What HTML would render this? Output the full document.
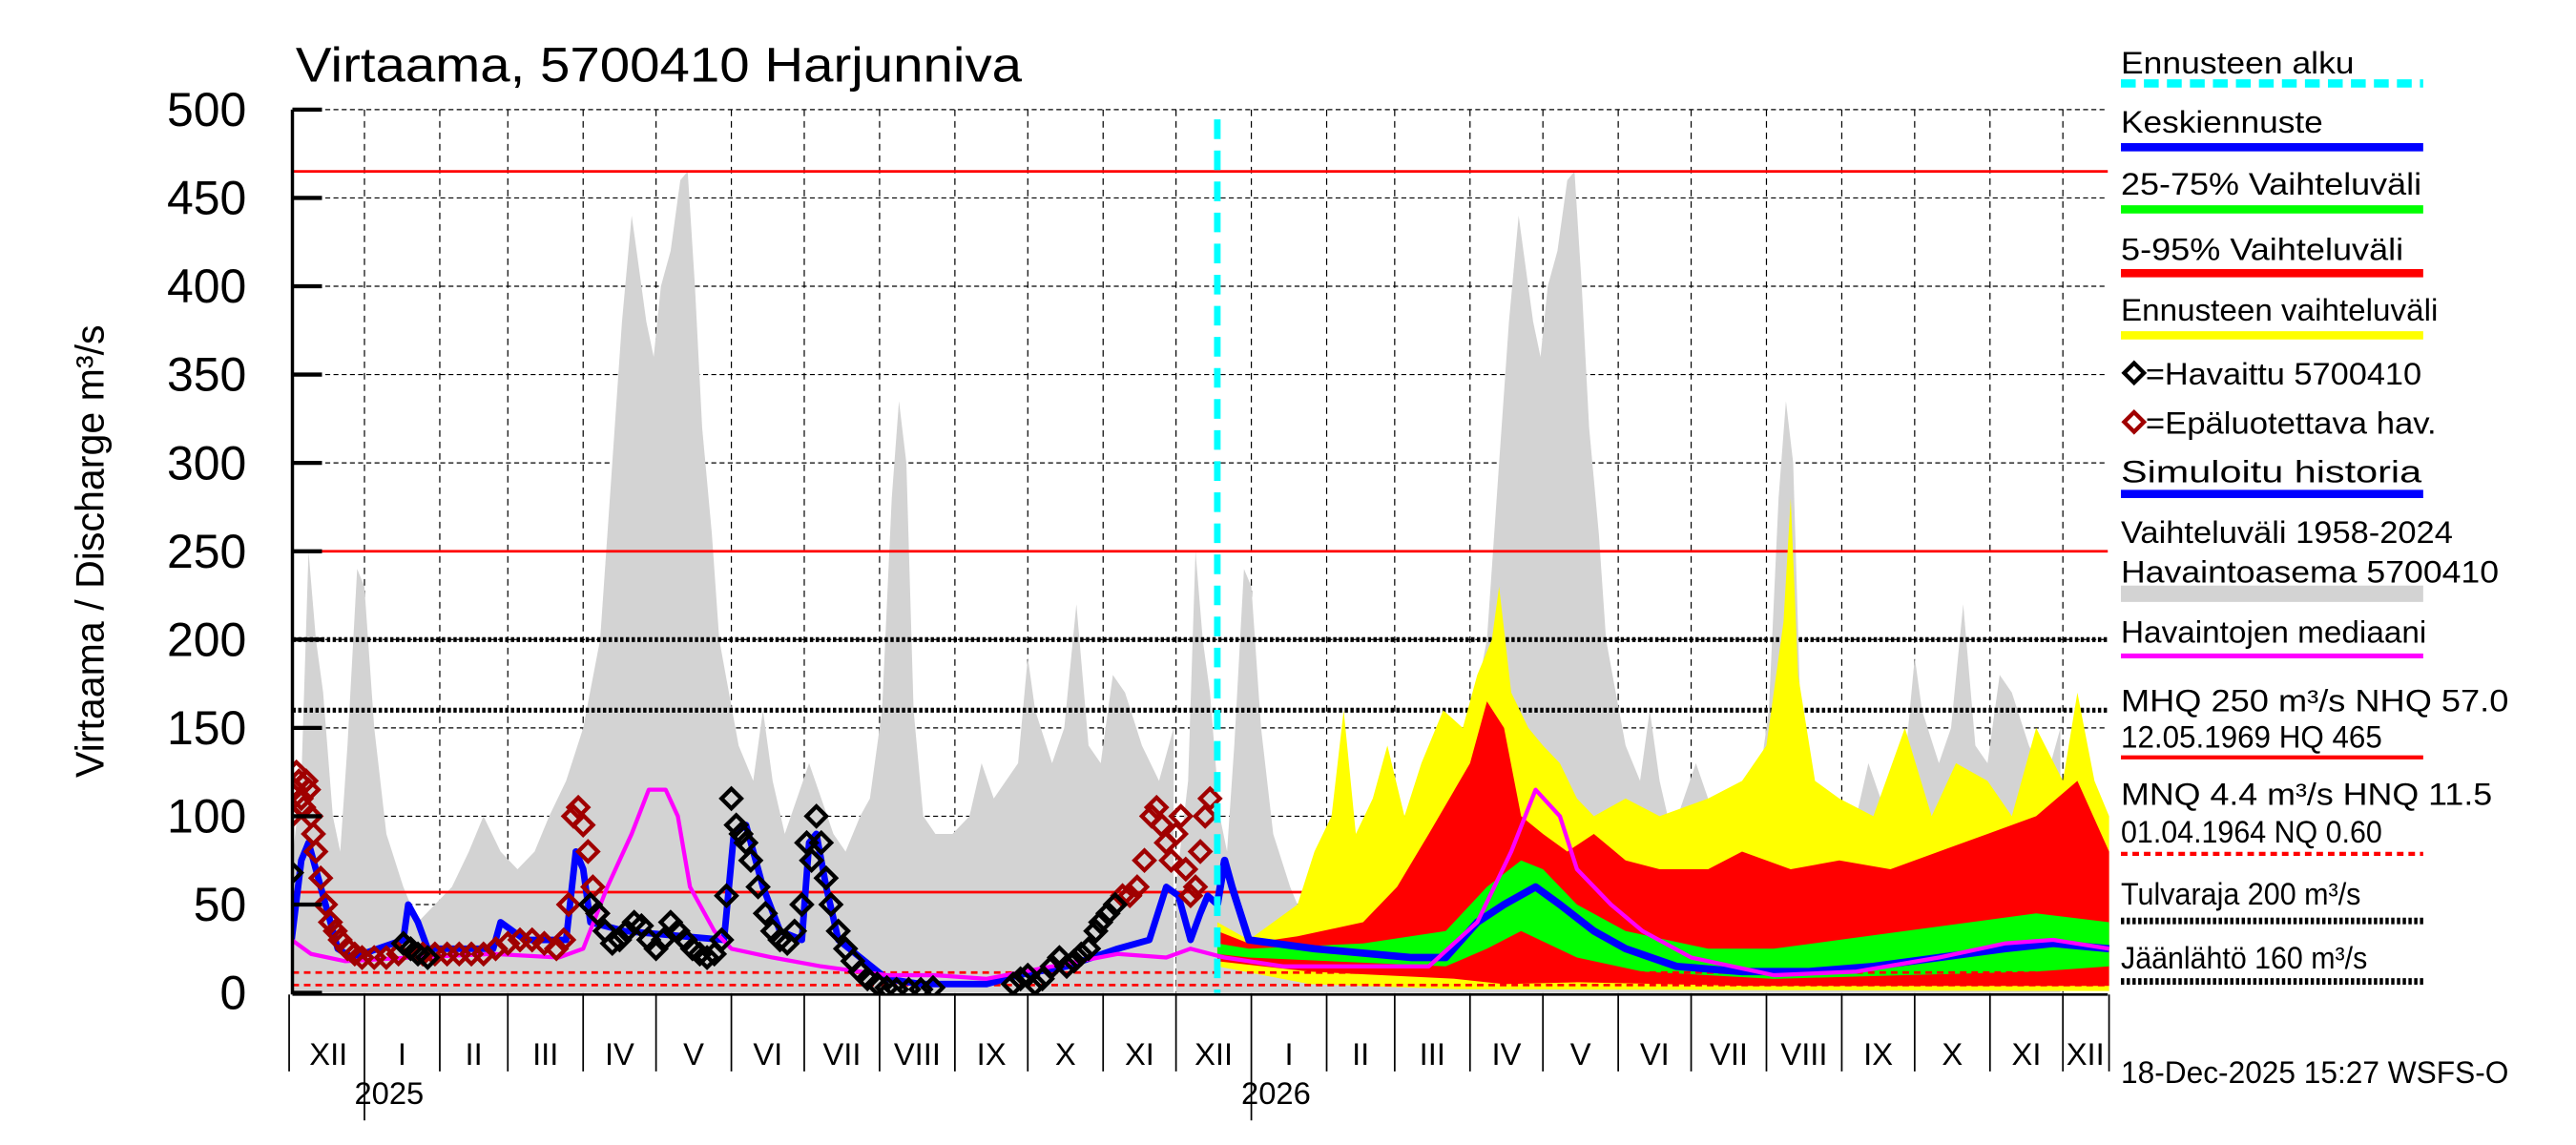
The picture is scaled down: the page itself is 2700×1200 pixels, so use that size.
<!DOCTYPE html>
<html><head><meta charset="utf-8"><style>
html,body{margin:0;padding:0;background:#fff;}
svg{display:block;font-family:"Liberation Sans",sans-serif;}
</style></head><body>
<svg id="chart" xmlns="http://www.w3.org/2000/svg" width="2700" height="1200" viewBox="0 0 1568 700" preserveAspectRatio="none">
<defs><clipPath id="plotclip"><rect x="178" y="60" width="1106" height="548"/></clipPath></defs>
<g id="grid"></g>
<g id="marks" clip-path="url(#plotclip)"></g>
<g id="axes"></g>
<g id="legend"></g>
</svg>
<script>
// ---- data (days since 1 Dec 2024, values m3/s) ----
const climDays=[0,5,8,11,14,18,21,24,28,31,35,40,47,53,60,67,74,80,87,94,101,107,114,121,128,133,137,141,143,147,150,153,157,161,164,167,170,174,177,181,185,191,195,199,204,209,214,219,224,229,235,239,244,248,251,254,257,261,266,273,280,285,290,295,300,304,307,314,319,324,329,334,339,344,351,358,364];
const climMax=[60,120,250,200,170,100,80,140,240,230,150,90,60,40,50,60,80,100,80,70,80,100,120,150,200,300,380,440,420,380,360,400,420,460,465,400,320,260,200,170,140,120,160,120,90,110,130,110,90,80,100,110,160,280,335,300,160,100,90,90,100,130,110,120,130,190,160,130,150,220,140,130,180,170,140,120,150];
const yelDays=[382,395,415,422,429,434,439,446,452,459,466,475,483,489,495,498,503,510,516,523,530,537,550,564,584,598,608,615,618,621,628,638,652,665,676,686,699,709,719,730,736,743,749];
const yelHigh=[40,30,50,80,100,160,90,110,140,100,130,160,150,180,200,230,170,150,140,130,110,100,110,100,110,120,140,210,280,180,120,110,100,150,100,130,120,100,150,120,170,120,100];
const yelLowDays=[382,420,480,749];
const yelLow=[15,5,2,1];
const redDays=[382,395,415,442,456,469,486,493,500,507,516,526,537,550,564,584,598,618,638,659,679,699,719,736,749];
const redHigh=[35,28,32,40,60,90,130,165,150,100,90,80,90,75,70,70,80,70,75,70,80,90,100,120,80];
const redLowDays=[382,420,480,500,530,600,749];
const redLow=[18,12,8,5,6,4,4];
const grnDays=[382,395,442,476,493,507,516,530,550,584,611,638,665,692,719,749];
const grnHigh=[28,25,28,35,60,75,70,50,35,25,25,30,35,40,45,40];
const grnLowDays=[382,395,476,493,507,530,557,611,665,719,749];
const grnLow=[22,20,15,25,35,20,12,8,10,12,15];
const fcDays=[382,385,388,395,422,462,476,489,500,513,523,537,550,571,598,625,652,679,706,726,749];
const fcMean=[50,75,60,30,25,20,20,40,50,60,50,35,25,15,12,12,15,20,25,28,25];
const medDays=[1,9,23,50,84,111,121,131,141,148,155,160,165,175,182,199,219,246,266,287,314,341,361,371,385,409,469,489,503,513,523,530,544,557,577,611,645,679,706,726,749];
const medVal=[30,22,18,20,22,20,25,60,90,115,115,100,60,35,25,20,15,10,10,8,15,22,20,25,20,15,15,40,80,115,100,70,50,35,20,10,12,20,28,30,25];
const simDays=[1,5,8,13,20,26,47,49,53,57,84,87,97,114,118,121,124,138,179,183,188,195,202,211,214,217,221,226,246,260,287,300,320,341,354,361,366,371,375,378,382];
const simVal=[30,75,85,60,25,20,30,50,40,25,25,40,30,30,80,70,40,35,30,90,95,60,35,30,85,90,60,30,8,5,5,10,15,25,30,60,55,30,45,55,50];
const obsDays=[1,47,50,53,57,124,127,130,133,136,139,142,145,148,151,154,157,160,163,166,169,172,175,178,180,182,184,186,188,190,193,196,199,202,205,208,211,213,215,217,219,221,223,226,229,232,235,238,242,246,250,255,260,265,298,301,304,307,310,314,317,320,323,326,329,332,334,337,340];
const obsVal=[68,28,25,22,20,50,45,35,28,30,35,40,38,30,25,30,40,35,30,25,22,20,22,30,55,110,95,90,85,75,60,45,35,30,28,35,50,85,75,100,85,65,50,35,25,18,12,8,5,3,2,2,2,3,5,8,10,5,8,15,20,15,18,22,25,35,40,45,50];
const badDays=[1,2,3,4,5,6,7,8,9,10,11,13,15,17,19,21,24,27,30,35,40,45,55,60,65,70,75,80,85,90,95,100,105,110,113,115,117,119,121,123,125,127,343,346,349,352,355,357,359,361,363,365,367,369,371,373,375,377,379];
const badVal=[100,115,125,120,110,105,120,115,100,90,80,65,50,40,35,30,25,22,20,20,20,22,22,22,22,22,22,22,25,28,30,30,28,25,30,50,100,105,95,80,60,45,55,55,60,75,100,105,95,85,75,90,100,70,55,60,80,100,110];
const yTicks=[0,50,100,150,200,250,300,350,400,450,500];
const monthStarts=[0,31,62,90,121,151,182,212,243,274,304,335,365,396,427,455,486,516,547,577,608,639,669,700,730,749];
const monthLabels=["XII","I","II","III","IV","V","VI","VII","VIII","IX","X","XI","XII","I","II","III","IV","V","VI","VII","VIII","IX","X","XI","XII"];
const forecastStart=382;
const refLines=[465,250,57];
const lowLines=[11.5,4.4];
const threshLines=[200,160];

const NS="http://www.w3.org/2000/svg";
const X=d=>176+d*1.479;
const Y=v=>607-v*1.08;
function mk(tag,attrs,parent){const e=document.createElementNS(NS,tag);for(const k in attrs)e.setAttribute(k,attrs[k]);parent.appendChild(e);return e;}
const grid=document.getElementById('grid'),marks=document.getElementById('marks'),axes=document.getElementById('axes'),legend=document.getElementById('legend');

yTicks.forEach(t=>{if(t===0)return;const l=mk('line',{x1:178,x2:1283,y1:Y(t),y2:Y(t),stroke:'#000','stroke-width':0.7,'stroke-dasharray':'3,2'},grid);

});
monthStarts.forEach((d,i)=>{if(i===0||i===monthStarts.length-1)return;const l=mk('line',{x1:X(d),x2:X(d),y1:67,y2:607,stroke:'#000','stroke-width':0.7,'stroke-dasharray':'4,3'},grid);

});

function line(days,vals,color,w,name,dash){const p=days.map((d,i)=>X(d).toFixed(1)+','+Y(vals[i]).toFixed(1)).join(' ');
const e=mk('polyline',{points:p,fill:'none',stroke:color,'stroke-width':w,'stroke-linejoin':'round'},marks);if(dash)e.setAttribute('stroke-dasharray',dash);

return e;}
function band(hd,hv,ld,lv,color,name){const pts=hd.map((d,i)=>X(d).toFixed(1)+','+Y(hv[i]).toFixed(1));
for(let i=ld.length-1;i>=0;i--)pts.push(X(ld[i]).toFixed(1)+','+Y(lv[i]).toFixed(1));
const e=mk('polygon',{points:pts.join(' '),fill:color},marks);

}

[0,365].forEach(off=>{const pts=[X(climDays[0]+off)+','+Y(0)];climDays.forEach((d,i)=>pts.push(X(d+off).toFixed(1)+','+Y(climMax[i]).toFixed(1)));
pts.push(X(climDays[climDays.length-1]+off)+','+Y(0));
const e=mk('polygon',{points:pts.join(' '),fill:'#d3d3d3'},marks);

});

refLines.forEach(v=>{const e=mk('line',{x1:178,x2:1283,y1:Y(v),y2:Y(v),stroke:'#f00','stroke-width':1.6},marks);

});
threshLines.forEach(v=>{const e=mk('line',{x1:178,x2:1283,y1:Y(v),y2:Y(v),stroke:'#000','stroke-width':3,'stroke-dasharray':'2,1.5'},marks);

});

band(yelDays,yelHigh,yelLowDays,yelLow,'#ffff00','forecast-range-band');
band(redDays,redHigh,redLowDays,redLow,'#ff0000','band-5-95');
band(grnDays,grnHigh,grnLowDays,grnLow,'#00ff00','band-25-75');
lowLines.forEach(v=>{const e=mk('line',{x1:178,x2:1283,y1:Y(v),y2:Y(v),stroke:'#f00','stroke-width':1.6,'stroke-dasharray':'4,3'},marks);

});
line(simDays,simVal,'#0000ff',4,'simulated-history-line');
line(fcDays,fcMean,'#0000ff',4.5,'forecast-mean-line');
line(medDays,medVal,'#ff00ff',2.5,'observed-median-line');
function diamonds(days,vals,color,name){days.forEach((d,i)=>{const x=X(d),y=Y(vals[i]);
const e=mk('polygon',{points:`${x},${y-6} ${x+6},${y} ${x},${y+6} ${x-6},${y}`,fill:'none',stroke:color,'stroke-width':2.5},marks);

});}
diamonds(badDays,badVal,'#a00000','unreliable-observation');
diamonds(obsDays,obsVal,'#000','observation');
const fl=mk('line',{x1:X(forecastStart),x2:X(forecastStart),y1:73,y2:607,stroke:'#00ffff','stroke-width':4,'stroke-dasharray':'12,7'},marks);



let e=mk('line',{x1:178,x2:178,y1:67,y2:608,stroke:'#000','stroke-width':2},axes);


e=mk('line',{x1:178,x2:1283,y1:608,y2:608,stroke:'#000','stroke-width':1.5},axes);


yTicks.forEach(t=>{const tk=mk('line',{x1:178,x2:196,y1:Y(t),y2:Y(t),stroke:'#000','stroke-width':2.5},axes);


const tx=mk('text',{x:150,y:Y(t)+10,'text-anchor':'end','font-size':29},axes);tx.textContent=t;

});
monthStarts.forEach((d,i)=>{const year=(i===1||i===13);
const tk=mk('line',{x1:X(d),x2:X(d),y1:608,y2:year?685:655,stroke:'#000','stroke-width':1},axes);


if(i<monthLabels.length){const a=Math.max(X(d),178),b=Math.min(X(monthStarts[i+1]),1283);
const tx=mk('text',{x:(a+b)/2,y:651,'text-anchor':'middle','font-size':19},axes);tx.textContent=monthLabels[i];

}});
[[X(31)+15,'2025'],[X(396)+15,'2026']].forEach(([x,s])=>{const tx=mk('text',{x:x,y:675,'text-anchor':'middle','font-size':19},axes);tx.textContent=s;

});
</script>
<svg style="position:absolute;left:0;top:0" width="2700" height="1200" viewBox="0 0 1568 700" preserveAspectRatio="none">
<text x="180" y="50" font-size="30" textLength="442" lengthAdjust="spacingAndGlyphs" font-family="Liberation Sans">Virtaama, 5700410 Harjunniva</text>
<text transform="translate(63,337) rotate(-90)" text-anchor="middle" font-size="24" font-family="Liberation Sans">Virtaama / Discharge    m³/s</text>
<g font-family="Liberation Sans" font-size="19">
<text x="1291" y="45" textLength="142" lengthAdjust="spacingAndGlyphs">Ennusteen alku</text>
<line x1="1291" x2="1475" y1="51" y2="51" stroke="#00ffff" stroke-width="5" stroke-dasharray="9,5"/>
<text x="1291" y="81" textLength="123" lengthAdjust="spacingAndGlyphs">Keskiennuste</text>
<line x1="1291" x2="1475" y1="90" y2="90" stroke="#0000ff" stroke-width="5"/>
<text x="1291" y="119" textLength="183" lengthAdjust="spacingAndGlyphs">25-75% Vaihteluväli</text>
<line x1="1291" x2="1475" y1="128" y2="128" stroke="#00ff00" stroke-width="5"/>
<text x="1291" y="159" textLength="172" lengthAdjust="spacingAndGlyphs">5-95% Vaihteluväli</text>
<line x1="1291" x2="1475" y1="167" y2="167" stroke="#ff0000" stroke-width="5"/>
<text x="1291" y="196" textLength="193" lengthAdjust="spacingAndGlyphs">Ennusteen vaihteluväli</text>
<line x1="1291" x2="1475" y1="205" y2="205" stroke="#ffff00" stroke-width="5"/>
<polygon points="1299,222 1305,228 1299,234 1293,228" fill="none" stroke="#000" stroke-width="2.5"/>
<text x="1306" y="235" textLength="168" lengthAdjust="spacingAndGlyphs">=Havaittu 5700410</text>
<polygon points="1299,252 1305,258 1299,264 1293,258" fill="none" stroke="#a00000" stroke-width="2.5"/>
<text x="1306" y="265" textLength="177" lengthAdjust="spacingAndGlyphs">=Epäluotettava hav.</text>
<text x="1291" y="295" textLength="183" lengthAdjust="spacingAndGlyphs">Simuloitu historia</text>
<line x1="1291" x2="1475" y1="302" y2="302" stroke="#0000ff" stroke-width="5"/>
<text x="1291" y="332" textLength="202" lengthAdjust="spacingAndGlyphs">Vaihteluväli 1958-2024</text>
<text x="1291" y="356" textLength="230" lengthAdjust="spacingAndGlyphs">Havaintoasema 5700410</text>
<rect x="1291" y="358" width="184" height="10" fill="#d3d3d3"/>
<text x="1291" y="393" textLength="186" lengthAdjust="spacingAndGlyphs">Havaintojen mediaani</text>
<line x1="1291" x2="1475" y1="401" y2="401" stroke="#ff00ff" stroke-width="3"/>
<text x="1291" y="435" textLength="236" lengthAdjust="spacingAndGlyphs">MHQ  250 m³/s NHQ 57.0</text>
<text x="1291" y="457" textLength="159" lengthAdjust="spacingAndGlyphs">12.05.1969 HQ  465</text>
<line x1="1291" x2="1475" y1="463" y2="463" stroke="#ff0000" stroke-width="2.5"/>
<text x="1291" y="492" textLength="226" lengthAdjust="spacingAndGlyphs">MNQ  4.4 m³/s HNQ 11.5</text>
<text x="1291" y="515" textLength="159" lengthAdjust="spacingAndGlyphs">01.04.1964 NQ 0.60</text>
<line x1="1291" x2="1475" y1="522" y2="522" stroke="#ff0000" stroke-width="2.5" stroke-dasharray="4,3"/>
<text x="1291" y="553" textLength="146" lengthAdjust="spacingAndGlyphs">Tulvaraja 200 m³/s</text>
<line x1="1291" x2="1475" y1="563" y2="563" stroke="#000" stroke-width="4" stroke-dasharray="2,1.5"/>
<text x="1291" y="592" textLength="150" lengthAdjust="spacingAndGlyphs">Jäänlähtö 160 m³/s</text>
<line x1="1291" x2="1475" y1="600" y2="600" stroke="#000" stroke-width="4" stroke-dasharray="2,1.5"/>
<text x="1291" y="662" textLength="236" lengthAdjust="spacingAndGlyphs">18-Dec-2025 15:27 WSFS-O</text>
</g>
</svg>
</body></html>
